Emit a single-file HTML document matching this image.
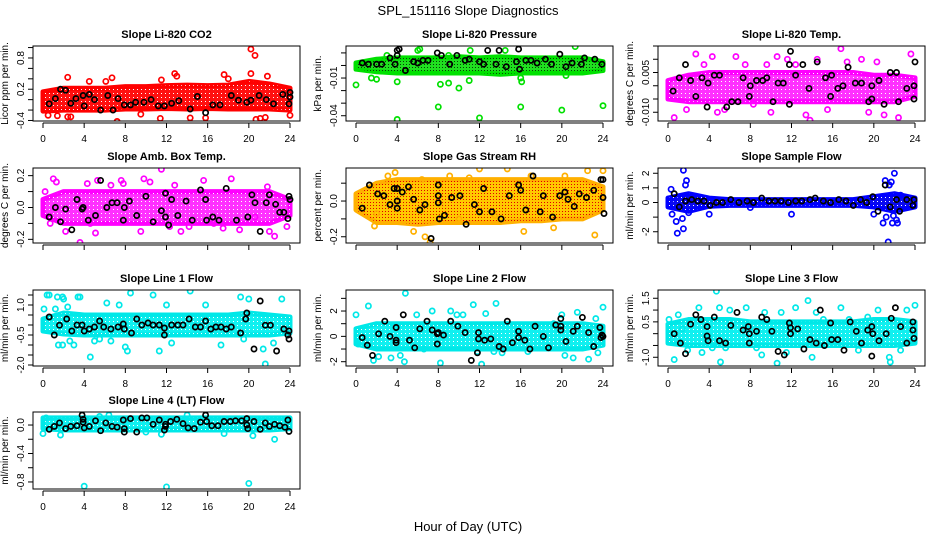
<!DOCTYPE html>
<html><head><meta charset="utf-8">
<style>
html,body{margin:0;padding:0;background:#fff;}
svg{display:block;font-family:"Liberation Sans",sans-serif;}
</style></head>
<body>
<svg id="chart" width="936" height="540" viewBox="0 0 936 540" xmlns="http://www.w3.org/2000/svg">
<defs>
<pattern id="speck-white" width="4" height="4" patternUnits="userSpaceOnUse"><rect x="1" y="1" width="1" height="1" fill="#fff"/></pattern>
<pattern id="speck-dark" width="3" height="3" patternUnits="userSpaceOnUse"><rect x="1" y="1" width="1" height="1" fill="#064006"/></pattern>
<pattern id="speck-red" width="3" height="3" patternUnits="userSpaceOnUse"><rect x="1" y="1" width="1" height="1" fill="#e00000"/></pattern>
</defs>
<rect width="936" height="540" fill="#fff"/>
<text x="468" y="15" text-anchor="middle" font-size="13">SPL_151116  Slope Diagnostics</text>
<text x="468" y="531" text-anchor="middle" font-size="13">Hour of Day (UTC)</text>
</svg>
<script>
// ----- shared data -----
const bandHours = [0,2,4,6,8,10,12,14,16,18,20,22,24];
const xTicks = [0,4,8,12,16,20,24];

// ----- panel 1: Li-820 CO2 -----
const co2Lo = [-0.22,-0.2,-0.2,-0.2,-0.18,-0.18,-0.17,-0.18,-0.17,-0.18,-0.18,-0.18,-0.2];
const co2Hi = [0.15,0.22,0.22,0.22,0.25,0.25,0.27,0.28,0.27,0.28,0.35,0.3,0.22];
const co2Pts = [[20.2,0.97],[20.6,0.85],[7.2,-0.42],[0.5,-0.3],[1.4,-0.31],[2.4,-0.33],[2.7,-0.33],[6.7,0.42],[11.4,-0.36],[12.8,0.5],[13,0.45],[14.3,-0.35],[15.8,-0.35],[17.6,0.48],[18,0.4],[20.2,0.5],[20.7,-0.38],[21.1,-0.36],[21.6,-0.34],[21.8,0.45],[24,-0.3],[2.4,0.43],[6.1,0.35],[9.5,-0.28],[4.5,0.35],[11.5,0.38]];
const co2Blk = [[0.6,-0.08],[1.2,0.02],[1.7,0.2],[2.2,0.18],[2.7,-0.07],[3.2,0.02],[3.9,0.08],[4,-0.12],[4.5,0.1],[5,0],[5.6,-0.2],[6.3,0.08],[6.8,-0.2],[7.3,0.02],[7.9,-0.1],[8.5,-0.1],[9,-0.05],[9.8,-0.05],[10.5,0],[11.2,-0.12],[11.8,-0.12],[12.5,-0.07],[13.2,-0.02],[14.3,-0.18],[15,0.06],[15.8,-0.25],[16.5,-0.1],[17.2,-0.1],[18.3,0.08],[19,-0.01],[19.8,-0.05],[20.2,-0.01],[21,0.08],[21.7,0],[22.4,-0.08],[23.3,0.1],[24,0.14],[24,0.05],[23.9,-0.08]];
const co2Ticks = [-0.4,-0.2,0,0.2,0.4,0.6,0.8,1.0];
const co2Labels = ["-0.4","","","0.2","","","0.8",""];

// ----- panel 2: Li-820 Pressure -----
const presLo = [-0.003,-0.005,-0.006,-0.006,-0.006,-0.006,-0.006,-0.007,-0.006,-0.006,-0.006,-0.006,-0.004];
const presHi = [0.002,0.005,0.006,0.006,0.006,0.007,0.006,0.007,0.006,0.006,0.006,0.006,0.003];
const presPts = [[0,-0.0155],[4,-0.043],[8,-0.033],[12,-0.0417],[16,-0.033],[20,-0.0355],[24,-0.032],[1.5,-0.01],[2,-0.011],[4,-0.013],[5,-0.005],[8.2,-0.015],[9,-0.014],[10,-0.018],[11,-0.012],[6,0.012],[6.2,0.013],[21.3,0.015],[14.5,0.012],[16,-0.01],[16.1,-0.013],[20.4,-0.008],[9,0.008],[11.1,0.012],[3,0.008]];
const presBlk = [[0.6,0.002],[1.2,0.001],[2,0.001],[2.5,0.001],[3.3,0.006],[3.8,0.001],[4,0.008],[4,0.012],[4.2,0.013],[4.8,-0.004],[5.6,0.003],[6,0.002],[6.5,0.004],[7,0.004],[7.9,0.01],[8.3,0.008],[9.1,0.001],[9.8,0.008],[10.6,0.004],[11,0.005],[12,0.003],[12.4,0.001],[12.8,0.012],[13.6,0.001],[13.9,0.012],[14.6,-0.001],[15.6,0.003],[15.8,0.013],[15.9,-0.003],[16.5,0.004],[17,0.004],[17.6,0.002],[18.4,0.005],[19,0.001],[19.8,0.009],[20.4,-0.001],[21,0.002],[21.9,0.001],[22.2,0.006],[23.2,0.005],[23.9,0.001]];
const presTicks = [-0.04,-0.03,-0.02,-0.01,0,0.01];
const presLabels = ["-0.04","","","-0.01","",""];

// ----- panel 3: Li-820 Temp -----
const tmpLo = [-0.005,-0.006,-0.006,-0.006,-0.006,-0.006,-0.006,-0.006,-0.006,-0.006,-0.006,-0.006,-0.004];
const tmpHi = [0.002,0.004,0.005,0.005,0.005,0.005,0.005,0.005,0.005,0.005,0.004,0.004,0.003];
const tmpPts = [[0.6,-0.012],[1.8,-0.009],[2.7,0.012],[3.5,0.008],[4.3,0.011],[5.5,-0.009],[6.6,0.011],[7.5,0.008],[8.3,-0.007],[10,-0.01],[10.6,0.011],[11.6,0.01],[12.4,0.008],[13.4,-0.011],[13.8,-0.013],[14.5,0.01],[15.5,-0.009],[16.8,0.014],[17.4,0.009],[18.8,0.01],[19.5,-0.01],[21,-0.011],[22.4,-0.012],[23.6,0.012],[4.8,-0.01],[20.3,0.009],[9.6,0.008]];
const tmpBlk = [[0.5,-0.002],[1.1,0.003],[1.7,0.008],[2.2,0.002],[2.7,-0.004],[3.3,0.003],[3.8,-0.008],[3.9,0.001],[4.5,0.004],[5,0.004],[5.7,-0.008],[6.2,-0.006],[6.8,-0.006],[7.3,0.003],[7.9,-0.004],[8,0],[8.6,0.002],[9.2,0.002],[9.6,0.003],[10.2,-0.006],[10.7,0.001],[11.2,0.001],[11.8,0.008],[11.9,0.013],[11.8,-0.007],[12.4,0.004],[13.1,0.008],[13.7,-0.001],[14.5,0.009],[15.3,0.003],[15.8,-0.004],[15.9,0.004],[16.5,-0.001],[17,0],[17.5,0.007],[18.2,0.001],[18.8,0.001],[19.5,-0.006],[19.8,-0.005],[19.8,0],[20.5,0.002],[21,-0.007],[21.6,0.005],[22.2,0.005],[22.4,-0.006],[23.2,-0.001],[23.9,0],[23.9,-0.005],[24,0.009]];
const tmpTicks = [-0.01,-0.005,0,0.005,0.01,0.015];
const tmpLabels = ["-0.010","","","0.005","",""];

// ----- panel 4: Amb. Box Temp -----
const ambLo = [-0.05,-0.1,-0.1,-0.1,-0.1,-0.1,-0.1,-0.1,-0.1,-0.1,-0.1,-0.1,-0.05];
const ambHi = [0.05,0.1,0.1,0.1,0.1,0.1,0.1,0.1,0.1,0.1,0.1,0.1,0.05];
const ambPts = [[0.7,-0.1],[1,0.18],[1.3,0.16],[2.2,-0.15],[3.6,-0.22],[4.3,0.15],[4.6,-0.1],[5.1,-0.16],[5.3,0.17],[7.6,0.17],[7.8,0.15],[9.5,-0.15],[9.8,0.18],[10.4,0.16],[11.5,0.24],[12.3,-0.12],[12.8,0.14],[13.4,-0.15],[14.2,-0.12],[15.6,0.17],[16.6,-0.1],[17.5,-0.13],[18.3,0.18],[19.1,-0.14],[20.6,-0.06],[21.8,0.13],[22.5,-0.18],[23.7,-0.12],[0.2,0.1],[6.6,0.14],[22,-0.15]];
const ambBlk = [[0.6,-0.06],[1.2,0],[1.7,-0.09],[2.2,-0.01],[2.8,-0.14],[3.3,0.05],[3.8,-0.01],[3.9,0],[4.4,-0.08],[5.1,-0.05],[5.6,0.17],[6.2,0],[6.7,0.03],[7.2,0.03],[7.8,-0.08],[7.9,0],[8.4,0.04],[9.1,-0.05],[10,0.07],[10.7,-0.09],[11.5,-0.02],[11.9,0.09],[11.9,-0.06],[12.2,-0.11],[12.5,0.05],[13.1,-0.05],[13.9,0.04],[14.5,-0.08],[15.3,0.11],[15.8,0.05],[15.9,-0.08],[16.5,-0.06],[17.1,-0.08],[17.8,0.12],[18.8,-0.08],[19.9,-0.06],[20.3,0.08],[20.6,0.03],[21.1,-0.15],[21.7,0.03],[22,0.08],[22.6,0.02],[23,-0.03],[23.4,-0.03],[23.8,-0.07],[23.9,0.07],[24,0.05]];
const ambTicks = [-0.2,-0.1,0,0.1,0.2];
const ambLabels = ["-0.2","","0.0","","0.2"];

// ----- panel 5: Gas Stream RH -----
const rhLo = [-0.05,-0.12,-0.12,-0.13,-0.12,-0.12,-0.12,-0.12,-0.11,-0.11,-0.1,-0.1,-0.05];
const rhHi = [0.04,0.1,0.12,0.12,0.12,0.12,0.12,0.12,0.12,0.12,0.12,0.12,0.08];
const rhPts = [[1.8,-0.14],[3.1,0.14],[3.8,0.16],[5.6,-0.17],[6.4,0.12],[7.2,-0.23],[6.7,-0.2],[9.1,0.14],[10,-0.1],[12,0.18],[13.5,-0.08],[14.7,0.18],[16.3,-0.17],[17,0.14],[19.2,-0.15],[20.3,0.14],[22.5,0.17],[23.2,-0.19],[24,0.17],[2,-0.07],[11,0.13]];
const rhBlk = [[0.6,-0.04],[1.3,0.09],[2.1,0.04],[2.7,0.03],[3.3,-0.02],[3.7,0.07],[4,0.07],[4,0],[4,-0.04],[4.5,0.05],[5.1,0.08],[5.6,0.01],[6.2,-0.05],[6.7,-0.02],[7.3,-0.21],[8,0.09],[8,0.03],[8,-0.01],[8.1,-0.1],[8.6,-0.08],[9.3,0.02],[10.1,0.03],[10.7,-0.13],[11.5,-0.02],[12,-0.06],[12.4,0.07],[13.2,-0.06],[14.1,-0.1],[14.9,0.03],[15.8,0.09],[16,0.06],[16.5,-0.05],[17.2,0.14],[17.9,-0.06],[18.2,0.03],[19.1,-0.09],[19.8,0.03],[20.3,0.05],[20.6,0.01],[21.2,-0.03],[21.7,0.04],[22.4,0.02],[23.1,0.06],[23.8,0.12],[24,0.12],[24,0.02],[24.1,-0.07]];
const rhTicks = [-0.2,-0.1,0,0.1];
const rhLabels = ["-0.2","","0.0",""];

// ----- panel 6: Sample Flow -----
const sfLo = [-0.3,-0.6,-0.25,-0.2,-0.2,-0.2,-0.2,-0.2,-0.2,-0.2,-0.3,-0.6,-0.3];
const sfHi = [0.3,0.6,0.3,0.2,0.2,0.2,0.2,0.2,0.2,0.2,0.4,0.6,0.3];
const sfPts = [[0.3,0.9],[0.4,-0.8],[0.8,-1.3],[0.9,-2.1],[1.5,2.2],[1.5,-1.8],[1.7,1.2],[1.8,1.5],[1.4,-1.1],[2,-0.7],[4,-0.8],[8,-0.35],[12,-0.8],[20,-0.8],[21.1,1.5],[21.5,1.2],[21.7,1.4],[22,2.0],[20.9,-1.4],[21.4,-2.7],[21.8,-1.4],[22.2,-1.2],[22.3,-1.4],[21.9,-0.9],[21.2,-1.0],[0.6,0.3],[22.6,0.5]];
const sfBlk = [[0.6,0.6],[1.1,-0.3],[1.7,0.1],[2.3,0.2],[2.9,0.1],[3.5,0.1],[4.1,-0.2],[4.7,0],[5.3,0],[6.1,0.2],[6.9,0],[7.7,0.1],[8.3,0],[9.1,0.3],[9.8,0.1],[10.4,0.1],[11,0.1],[11.7,0],[12.4,0.1],[13,0.1],[13.8,0.2],[14.3,0.3],[15.1,0.1],[15.8,0],[16.6,0.2],[17.3,0.1],[18,-0.2],[18.7,0.2],[19.3,0],[19.9,0.4],[20.4,-0.6],[21.1,1.2],[21.6,-0.3],[22.2,0.2],[22.5,-0.6],[23.2,0.2],[23.8,-0.2],[23.9,0.2]];
const sfTicks = [-2,-1,0,1,2];
const sfLabels = ["-2","","0","1","2"];

// ----- panel 7: Line 1 Flow -----
const l1Lo = [-0.3,-0.45,-0.5,-0.5,-0.5,-0.5,-0.5,-0.5,-0.5,-0.5,-0.5,-0.5,-0.4];
const l1Hi = [0.3,0.6,0.5,0.5,0.5,0.5,0.5,0.5,0.5,0.5,0.6,0.5,0.4];
const l1Pts = [[0.1,0.8],[0.4,1.5],[0.6,1.5],[1.2,0.8],[1.4,1.4],[1.9,1.4],[2,1.3],[2.4,0.9],[3.4,1.4],[3.6,1.4],[1.5,-1.0],[1.9,-1.0],[2.6,-0.8],[3,-1.0],[4.6,-1.6],[5,-0.8],[5.5,-0.7],[6.6,-0.8],[6.2,1.1],[7.4,1.0],[8,-1.1],[8.5,1.6],[8.2,-1.3],[10.7,1.5],[11.3,-1.3],[12.5,-0.9],[14.3,1.7],[15.8,1.0],[17.3,-1.0],[19.2,1.4],[19.5,-0.7],[21.4,-1.2],[21.6,-1.95],[22.4,-0.9],[23.2,1.3],[24,1.9],[20,1.3],[12,1.0]];
const l1Blk = [[0.6,0.4],[1.1,-0.5],[1.6,-0.01],[2.3,0.3],[2.8,-0.3],[3.3,0],[3.8,0],[4,-0.3],[4.5,-0.2],[5,-0.1],[5.5,0.2],[5.9,-0.1],[6.6,-0.2],[7.3,-0.1],[7.8,0.05],[7.9,-0.2],[8.6,-0.4],[9.1,0.3],[9.6,0],[10.2,0.1],[10.7,0],[11.3,0],[11.8,-0.15],[11.8,-0.5],[12.5,0],[13.1,0],[13.6,0],[14.2,0.3],[14.8,-0.1],[15.3,-0.1],[15.8,0.2],[16.3,-0.2],[16.8,-0.1],[17.3,-0.1],[17.8,-0.2],[18.3,-0.1],[19.2,-0.4],[19.7,0.3],[19.8,0.6],[20.5,-1.2],[21.1,1.2],[21.6,-0.01],[22.1,-0.01],[22.7,-1.3],[23.4,-0.2],[23.9,-0.3],[23.8,-0.5],[23.9,-0.7]];
const l1Ticks = [-2,-1.5,-1,-0.5,0,0.5,1,1.5];
const l1Labels = ["-2.0","","","-0.5","","","1.0",""];

// ----- panel 8: Line 2 Flow -----
const l2Lo = [-0.6,-1,-1,-1,-1,-1,-1,-1,-1,-1,-1,-1,-0.7];
const l2Hi = [0.6,1,1,1,1,1,1,1,1,1,1,1,0.8];
const l2Pts = [[0,1.7],[1.2,2.4],[0.2,-0.6],[1.7,-1.9],[2.2,-1.6],[3.4,-1.7],[4.3,-1.5],[4.8,3.4],[4.7,-2],[5.9,1.7],[6.6,-1],[7.4,2.0],[8.2,-2.1],[9.2,2.0],[9.8,1.7],[10.4,1.7],[11.4,2.5],[11.8,-1.2],[12.6,1.8],[13.6,2.6],[14.2,-1.3],[13.4,-1.2],[16.7,-1.2],[20,1.7],[20.3,-1.5],[21.1,-1.7],[21.5,1.9],[22.6,-1.8],[23.3,1.4],[23.5,-1.3],[24,2.3],[19.2,1.0],[12.2,-2.2],[15.7,0.4]];
const l2Blk = [[0.6,-0.1],[1.1,-0.7],[1.6,-1.5],[2.2,0.2],[2.8,1.2],[3.3,0],[3.9,-0.3],[3.9,-0.5],[3.9,0.7],[4.6,1.7],[5.2,-0.3],[5.7,-0.9],[6.2,0.6],[6.9,1.2],[7.4,0.5],[7.9,-0.6],[7.9,0.2],[8,0.3],[8.5,0.1],[9.2,1.2],[9.9,0.8],[10.6,0.3],[11.2,-1.9],[11.8,-1.3],[11.9,0.3],[11.9,-0.2],[12.5,-0.3],[13.1,-0.2],[13.9,-0.8],[14.3,-1.0],[14.7,1.2],[15.2,-0.5],[15.8,0.4],[15.8,-0.1],[16.4,-0.3],[16.9,-1.0],[17.4,0.8],[18.2,0],[18.7,-0.9],[19.4,0.9],[19.9,0.5],[19.9,1.4],[19.9,0.8],[20.4,-0.4],[21.1,0.4],[21.5,0.8],[22,1.5],[22.6,0.3],[23.1,-0.8],[23.7,0.7],[23.8,-0.1],[23.9,0.1],[24,0]];
const l2Ticks = [-2,-1,0,1,2,3];
const l2Labels = ["-2","","0","","2",""];

// ----- panel 9: Line 3 Flow -----
const l3Lo = [-0.4,-0.5,-0.5,-0.5,-0.5,-0.5,-0.5,-0.5,-0.5,-0.5,-0.5,-0.5,-0.4];
const l3Hi = [0.4,0.6,0.6,0.6,0.5,0.5,0.5,0.5,0.5,0.5,0.6,0.6,0.5];
const l3Pts = [[0.1,0.6],[0.2,0],[0.6,-1.1],[1,0.8],[1.4,0.2],[1.9,-0.7],[3,1.1],[3.3,-0.8],[4.3,-0.6],[4.7,1.8],[5,1.1],[5.1,-1.2],[5.6,-0.6],[6,1.0],[7.6,1.1],[8.6,-0.6],[9.1,-0.9],[9.4,0.9],[10.6,-1.25],[11,0.9],[11.5,-0.8],[12.4,1.1],[13.6,1.4],[14,-1.0],[14.4,0.9],[15.1,0.6],[16.8,1.1],[17.6,0.6],[18.5,-0.7],[20.4,1.0],[21.5,-1.0],[21.6,-1.2],[22.6,-0.7],[23.2,1.0],[24,1.2],[19.4,0.7]];
const l3Blk = [[0.6,0],[1.2,-0.4],[1.7,-0.85],[2.2,0.4],[2.7,0.8],[3.2,0.6],[3.8,0.3],[3.8,-0.1],[3.9,-0.3],[4.5,0.7],[5,-0.3],[5.6,-0.4],[6.1,0.35],[6.7,0.9],[7.3,0.15],[7.8,0.3],[7.9,-0.4],[7.9,0],[8.6,0.1],[9.1,0.7],[9.6,0.6],[10.1,0.1],[10.7,-0.75],[11.3,-0.9],[11.8,0.45],[11.9,0.25],[11.9,0],[12.6,0.2],[13.2,-0.65],[13.8,-0.25],[14.4,-0.4],[14.8,1.0],[15.2,-0.5],[15.8,0.45],[15.9,-0.25],[16.5,-0.25],[17.1,-0.7],[17.7,0.5],[18.3,0.1],[18.8,-0.4],[19.4,0.15],[19.8,0.3],[19.8,-0.95],[19.9,0],[20.5,-0.3],[21.2,0],[21.7,0.65],[22.1,1.1],[22.6,0.3],[23.2,-0.4],[23.8,0.5],[23.8,0.15],[23.9,-0.2]];
const l3Ticks = [-1,-0.5,0,0.5,1,1.5];
const l3Labels = ["-1.0","","","0.5","","1.5"];

// ----- panel 10: Line 4 (LT) Flow -----
const l4Lo = [-0.05,-0.07,-0.07,-0.07,-0.07,-0.07,-0.07,-0.07,-0.07,-0.07,-0.07,-0.07,-0.05];
const l4Hi = [0.1,0.1,0.1,0.1,0.1,0.1,0.1,0.1,0.1,0.1,0.1,0.1,0.1];
const l4Pts = [[0,-0.12],[1.7,-0.14],[4,-0.86],[12,-0.87],[20,-0.82],[20.4,-0.15],[22.5,-0.2],[14,0.14],[6.4,0.14],[5.5,0.12],[0.3,0.1],[11.5,-0.13],[17.6,-0.12],[10,-0.1]];
const l4Blk = [[0.6,-0.06],[1.1,-0.02],[1.6,0.03],[2.2,-0.05],[2.7,-0.02],[3.3,-0.01],[3.8,0.14],[3.9,0.08],[3.9,0.04],[4,-0.04],[4.5,-0.02],[5.1,0.06],[5.6,-0.08],[6.1,0.03],[6.7,-0.02],[7.2,-0.03],[7.8,0.07],[7.9,-0.05],[7.9,-0.1],[8.5,0.09],[9.1,-0.1],[9.6,0.1],[10.1,0.1],[10.7,0.01],[11.3,0.07],[11.8,-0.07],[11.9,0.01],[11.9,-0.02],[12.4,0.05],[13,0.08],[13.6,0.02],[14.1,-0.04],[14.7,-0.05],[15.3,0.04],[15.8,0.14],[15.9,0.05],[16.4,-0.01],[17,-0.01],[17.6,0.05],[18.2,0.05],[18.7,0.06],[19.3,0.06],[19.8,0.09],[19.8,0],[19.9,-0.05],[20.5,0.05],[21.1,-0.06],[21.6,0.03],[22,-0.02],[22.5,0.01],[23,-0.01],[23.5,-0.03],[23.8,0.07],[23.9,-0.09]];
const l4Ticks = [-0.8,-0.6,-0.4,-0.2,0];
const l4Labels = ["-0.8","","-0.4","","0.0"];

// ----- layout -----
const colLeft = [33, 346, 658];
const rowTop = [46, 168, 290, 412];
const boxW = 267;
const rowH = [75, 75, 76, 77];

const panels = [
 {name:"co2", title:"Slope Li-820 CO2", ylab:"Licor ppm per min.", col:0,row:0, yTop:1.03,yBot:-0.41, lo:co2Lo,hi:co2Hi,pts:co2Pts,blk:co2Blk,ticks:co2Ticks,labels:co2Labels,color:"#ff0000",band:"#ff1010",speck:"speck-white"},
 {name:"pressure", title:"Slope Li-820 Pressure", ylab:"kPa per min.", col:1,row:0, yTop:0.0155,yBot:-0.0442, lo:presLo,hi:presHi,pts:presPts,blk:presBlk,ticks:presTicks,labels:presLabels,color:"#00e000",band:"#20e020",speck:"speck-dark"},
 {name:"li820-temp", title:"Slope Li-820 Temp.", ylab:"degrees C per min.", col:2,row:0, yTop:0.015,yBot:-0.0133, lo:tmpLo,hi:tmpHi,pts:tmpPts,blk:tmpBlk,ticks:tmpTicks,labels:tmpLabels,color:"#ff00ff",band:"#ff30ff",speck:"speck-white"},
 {name:"amb-box-temp", title:"Slope Amb. Box Temp.", ylab:"degrees C per min.", col:0,row:1, yTop:0.248,yBot:-0.223, lo:ambLo,hi:ambHi,pts:ambPts,blk:ambBlk,ticks:ambTicks,labels:ambLabels,color:"#ff00ff",band:"#ff30ff",speck:"speck-white"},
 {name:"gas-rh", title:"Slope Gas Stream RH", ylab:"percent per min.", col:1,row:1, yTop:0.185,yBot:-0.235, lo:rhLo,hi:rhHi,pts:rhPts,blk:rhBlk,ticks:rhTicks,labels:rhLabels,color:"#ffb000",band:"#ffc800",speck:"speck-red"},
 {name:"sample-flow", title:"Slope Sample Flow", ylab:"ml/min per min.", col:2,row:1, yTop:2.36,yBot:-2.77, lo:sfLo,hi:sfHi,pts:sfPts,blk:sfBlk,ticks:sfTicks,labels:sfLabels,color:"#0000ff",band:"#0a0af0",speck:"speck-white"},
 {name:"line1-flow", title:"Slope Line 1 Flow", ylab:"ml/min per min.", col:0,row:2, yTop:1.75,yBot:-2.05, lo:l1Lo,hi:l1Hi,pts:l1Pts,blk:l1Blk,ticks:l1Ticks,labels:l1Labels,color:"#00e8e8",band:"#10f0f0",speck:"speck-white"},
 {name:"line2-flow", title:"Slope Line 2 Flow", ylab:"ml/min per min.", col:1,row:2, yTop:3.66,yBot:-2.34, lo:l2Lo,hi:l2Hi,pts:l2Pts,blk:l2Blk,ticks:l2Ticks,labels:l2Labels,color:"#00e8e8",band:"#10f0f0",speck:"speck-white"},
 {name:"line3-flow", title:"Slope Line 3 Flow", ylab:"ml/min per min.", col:2,row:2, yTop:1.85,yBot:-1.37, lo:l3Lo,hi:l3Hi,pts:l3Pts,blk:l3Blk,ticks:l3Ticks,labels:l3Labels,color:"#00e8e8",band:"#10f0f0",speck:"speck-white"},
 {name:"line4-flow", title:"Slope Line 4 (LT) Flow", ylab:"ml/min per min.", col:0,row:3, yTop:0.183,yBot:-0.899, lo:l4Lo,hi:l4Hi,pts:l4Pts,blk:l4Blk,ticks:l4Ticks,labels:l4Labels,color:"#00e8e8",band:"#10f0f0",speck:"speck-white"}
];

const NS = "http://www.w3.org/2000/svg";
const svg = document.getElementById("chart");
function mk(tag, attrs, parent){
  const e = document.createElementNS(NS, tag);
  for (const k in attrs) e.setAttribute(k, attrs[k]);
  (parent||svg).appendChild(e);
  return e;
}

panels.forEach(p => {
  const L = colLeft[p.col], T = rowTop[p.row], H = rowH[p.row], R = L + boxW, B = T + H;
  const xs = h => L + 10 + h / 24 * (boxW - 20);
  const ys = v => T + (p.yTop - v) / (p.yTop - p.yBot) * H;
  const g = mk("g", {});
  
  

  const clipId = "clip-" + p.name;
  const cp = mk("clipPath", {id: clipId}, g);
  mk("rect", {x:L, y:T, width:boxW, height:H}, cp);
  const plot = mk("g", {"clip-path": "url(#" + clipId + ")"}, g);

  // dense band
  let d = "";
  bandHours.forEach((h,i) => { d += (i ? "L" : "M") + xs(h).toFixed(1) + "," + ys(p.hi[i]).toFixed(1); });
  for (let i = bandHours.length - 1; i >= 0; i--) d += "L" + xs(bandHours[i]).toFixed(1) + "," + ys(p.lo[i]).toFixed(1);
  d += "Z";
  const band = mk("path", {d:d, fill:p.band, stroke:p.color, "stroke-width":5, "stroke-linejoin":"round"}, plot);
  
  
  const speck = mk("path", {d:d, fill:"url(#" + p.speck + ")", stroke:"none"}, plot);
  
  

  p.pts.forEach(pt => {
    const c = mk("circle", {cx:xs(pt[0]).toFixed(1), cy:ys(pt[1]).toFixed(1), r:2.6, fill:"none", stroke:p.color, "stroke-width":1.7}, plot);
    
    
  });
  p.blk.forEach(pt => {
    const c = mk("circle", {cx:xs(pt[0]).toFixed(1), cy:ys(pt[1]).toFixed(1), r:2.6, fill:"none", stroke:"#000", "stroke-width":1.7}, plot);
    
    
  });

  const box = mk("rect", {x:L, y:T, width:boxW, height:H, fill:"none", stroke:"#000", "stroke-width":1}, g);
  
  

  const title = mk("text", {x:L + boxW/2, y:T - 8, "text-anchor":"middle", "font-size":11, "font-weight":"bold"}, g);
  title.textContent = p.title;
  
  

  const yl = mk("text", {x:0, y:0, "text-anchor":"middle", "font-size":10, transform:"translate(" + (L-25) + "," + (T+H/2) + ") rotate(-90)"}, g);
  yl.textContent = p.ylab;
  
  

  // x axis
  mk("line", {x1:xs(0), x2:xs(24), y1:B+2, y2:B+2, stroke:"#000"}, g);
  xTicks.forEach(t => {
    mk("line", {x1:xs(t), x2:xs(t), y1:B+2, y2:B+7, stroke:"#000"}, g);
    if (p.row === 1) return;
    const tl = mk("text", {x:xs(t), y:B+21, "text-anchor":"middle", "font-size":10}, g);
    tl.textContent = t;
    
    
  });

  // y axis
  const vis = p.ticks.filter(t => ys(t) >= T - 0.5 && ys(t) <= B + 0.5);
  mk("line", {x1:L, x2:L, y1:ys(Math.max(...vis)), y2:ys(Math.min(...vis)), stroke:"#000"}, g);
  p.ticks.forEach((t,i) => {
    const y = ys(t);
    if (y < T - 1 || y > B + 1) return;
    mk("line", {x1:L-5, x2:L, y1:y, y2:y, stroke:"#000"}, g);
    if (!p.labels[i]) return;
    const tl = mk("text", {x:0, y:0, "text-anchor":"middle", "font-size":10, transform:"translate(" + (L-9) + "," + y.toFixed(1) + ") rotate(-90)"}, g);
    tl.textContent = p.labels[i];
    
    
  });
});
</script>
</body></html>
